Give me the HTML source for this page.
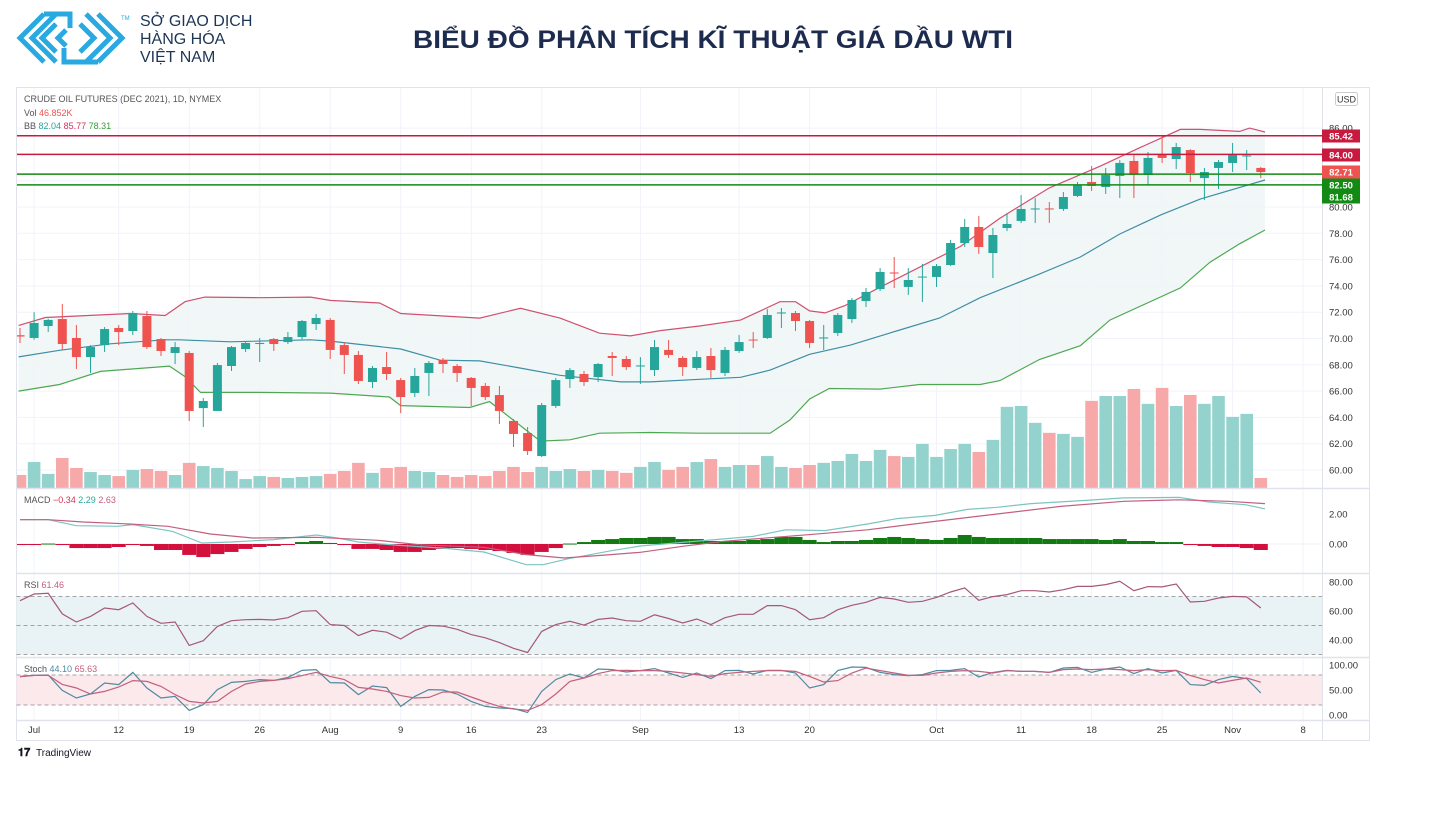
<!DOCTYPE html>
<html><head><meta charset="utf-8">
<style>
html,body{margin:0;padding:0;background:#fff;}
svg{display:block;font-family:"Liberation Sans","Noto Sans CJK SC",sans-serif;}
</style></head>
<body>
<svg id="chart" width="1430" height="834" viewBox="0 0 1430 834" xmlns="http://www.w3.org/2000/svg">
<defs><clipPath id="plotclip"><rect x="17" y="88" width="1305" height="632"/></clipPath></defs>
<g fill="none" stroke="#2aa9e0" stroke-width="5" stroke-linejoin="miter">
  <polyline points="44,14 20,38 44,62"/>
  <polyline points="56,14 32,38 56,62"/>
  <polyline points="56,24 42,38 56,52"/>
  <polyline points="66,30 58,38 66,46"/>
  <polyline points="86,14 110,38 86,62"/>
  <polyline points="98,14 122,38 98,62"/>
  <polyline points="80,24 94,38 80,52"/>
  <polyline points="44,14 70,14 70,28"/>
  <polyline points="98,62 64,62 64,48"/>
</g>
<text x="121" y="20" font-size="6" fill="#2aa9e0">TM</text>
<g font-size="16" fill="#1d3557">
  <text x="140" y="26">SỞ GIAO DỊCH</text>
  <text x="140" y="44">HÀNG HÓA</text>
  <text x="140" y="62">VIỆT NAM</text>
</g>
<text x="713" y="48" text-anchor="middle" font-size="25" font-weight="bold" fill="#1d2b4f" textLength="600" lengthAdjust="spacingAndGlyphs">BIỂU ĐỒ PHÂN TÍCH KĨ THUẬT GIÁ DẦU WTI</text>

<rect x="16.5" y="87.5" width="1353" height="653" fill="#fff" stroke="#e0e3eb"/>
<g id="grid"></g>
<g id="bands"></g>
<g clip-path="url(#plotclip)">
<g id="vol"></g>
<g id="bb"></g>
<g id="candles"></g>
<g id="levels"></g>
<g id="macd"></g>
<g id="rsi"></g>
<g id="stoch"></g>
</g>
<g id="axes"></g>

<g font-size="9">
  <text x="24" y="102" fill="#555">CRUDE OIL FUTURES (DEC 2021), 1D, NYMEX</text>
  <text x="24" y="116" fill="#555">Vol <tspan fill="#ef5350">46.852K</tspan></text>
  <text x="24" y="129" fill="#555">BB <tspan fill="#26a69a">82.04</tspan> <tspan fill="#d0335a">85.77</tspan> <tspan fill="#3a9b3a">78.31</tspan></text>
  <text x="24" y="503" fill="#555">MACD <tspan fill="#d0335a">−0.34</tspan> <tspan fill="#26a69a">2.29</tspan> <tspan fill="#c2607e">2.63</tspan></text>
  <text x="24" y="588" fill="#555">RSI <tspan fill="#c2607e">61.46</tspan></text>
  <text x="24" y="672" fill="#555">Stoch <tspan fill="#4f8aa0">44.10</tspan> <tspan fill="#c2607e">65.63</tspan></text>
</g>
<rect x="1335.5" y="92.5" width="22" height="13" rx="2" fill="#fff" stroke="#ccc"/>
<text x="1346.5" y="102.5" font-size="9" text-anchor="middle" fill="#333">USD</text>
<g>
  <text x="18" y="756" font-size="11" font-weight="bold" fill="#131722">𝟏𝟕</text>
  <text x="36" y="756" font-size="10" fill="#131722">TradingView</text>
</g>

<script>
// ---------- DATA ----------
const opens  = [70.25,70.04,70.95,71.48,70.04,68.59,69.5,70.8,70.57,71.71,69.96,68.9,68.9,64.71,64.49,67.91,69.2,69.58,69.96,69.73,70.11,71.1,71.41,69.5,68.75,66.69,67.83,66.84,65.86,67.38,68.37,67.91,67.0,66.39,65.7,63.73,62.81,61.06,64.87,66.92,67.3,67.07,68.67,68.44,67.87,67.6,69.13,68.52,67.76,68.67,67.38,69.05,69.92,70.04,71.9,71.94,71.33,70.0,70.42,71.48,72.85,73.76,75.02,73.92,74.64,74.68,75.59,77.26,78.48,76.5,78.4,78.94,79.81,79.89,79.85,80.84,81.9,81.52,82.36,83.5,82.43,84.03,83.65,84.33,82.2,82.97,83.35,83.84,82.97];
const highs  = [70.8,72.0,71.5,72.62,71.03,69.5,70.87,71.03,72.09,72.09,70.04,69.73,69.05,65.48,68.14,69.43,69.73,70.04,70.04,70.49,71.41,71.86,71.56,69.73,69.05,67.91,68.97,67.0,67.76,68.29,68.52,68.06,67.07,66.62,66.39,63.88,63.27,65.1,67.0,67.76,67.53,68.14,68.97,68.67,68.59,69.89,69.89,68.67,69.05,69.28,69.35,70.27,70.49,72.24,72.32,72.09,71.41,71.03,71.94,73.08,73.84,75.36,76.2,75.36,75.67,75.67,77.49,79.09,79.32,78.4,79.54,80.91,80.68,80.38,81.14,81.9,83.12,82.97,83.57,83.95,84.18,85.4,84.87,84.4,82.97,83.57,84.87,84.33,83.05];
const lows   = [69.66,69.9,70.5,69.13,67.68,67.38,68.97,69.5,70.27,69.2,68.67,68.06,63.73,63.27,64.49,67.53,68.97,68.21,69.05,69.58,69.89,70.65,68.44,67.3,66.54,66.24,66.84,64.33,65.55,65.63,67.38,66.69,64.87,65.32,63.5,61.75,61.14,60.99,64.71,66.24,66.39,66.69,67.15,67.6,66.54,67.15,68.52,67.15,67.6,67.0,67.15,68.9,69.28,69.96,70.8,70.57,69.28,69.13,70.19,71.18,72.4,73.61,73.84,73.31,72.78,73.92,75.51,76.96,76.43,74.6,78.17,78.78,78.78,78.78,79.7,80.76,81.22,80.99,80.68,80.68,81.67,83.35,82.89,81.9,80.53,81.37,82.66,82.81,82.2];
const closes = [70.15,71.18,71.41,69.58,68.59,69.35,70.72,70.49,71.94,69.35,69.05,69.35,64.49,65.25,67.98,69.35,69.66,69.66,69.58,70.11,71.33,71.56,69.13,68.75,66.77,67.76,67.3,65.55,67.15,68.14,68.06,67.38,66.24,65.55,64.49,62.74,61.44,64.94,66.84,67.6,66.69,68.06,68.52,67.83,67.95,69.35,68.75,67.83,68.59,67.6,69.13,69.73,69.85,71.79,71.98,71.33,69.66,70.08,71.79,72.93,73.54,75.06,74.94,74.45,74.71,75.51,77.26,78.48,76.96,77.87,78.71,79.85,79.89,79.81,80.76,81.67,81.6,82.43,83.35,82.43,83.73,83.73,84.56,82.58,82.66,83.42,83.95,83.92,82.66];
const volumeK = [61,122,66,141,94,75,61,56,85,89,80,61,118,103,94,80,42,56,52,47,52,56,66,80,118,71,94,99,80,75,61,52,61,56,80,99,75,99,80,89,80,85,80,71,99,122,85,99,122,136,99,108,108,150,99,94,108,118,127,160,127,179,150,146,207,146,183,207,169,226,381,385,306,259,254,240,409,432,432,465,395,470,385,437,395,432,334,348,47];
const macdHist = [-0.07,-0.07,0.03,-0.07,-0.27,-0.27,-0.27,-0.2,-0.07,-0.13,-0.4,-0.4,-0.73,-0.87,-0.67,-0.53,-0.33,-0.2,-0.13,-0.07,0.13,0.2,0.07,-0.07,-0.33,-0.33,-0.4,-0.53,-0.53,-0.4,-0.33,-0.27,-0.33,-0.4,-0.47,-0.6,-0.73,-0.53,-0.27,0.03,0.13,0.27,0.33,0.4,0.4,0.47,0.47,0.33,0.33,0.2,0.2,0.2,0.27,0.33,0.47,0.47,0.27,0.13,0.2,0.2,0.27,0.4,0.47,0.4,0.33,0.27,0.4,0.6,0.47,0.4,0.4,0.4,0.4,0.33,0.33,0.33,0.33,0.27,0.33,0.2,0.2,0.13,0.13,-0.07,-0.13,-0.2,-0.2,-0.27,-0.4];
const macdIdx = [0,2,4,6.9,8,10.8,12,12.9,15,18,21,22.5,24,26.9,29.9,32.9,35.9,37.1,38.9,41.9,44,47,52,54.3,57.1,60.1,62.2,64.9,67.2,69.3,71.7,75.6,78.3,82.2,84.3,86.9,88.3];
const macdLine = [1.62,1.62,1.22,1.18,1.29,0.85,0.4,0.07,0.13,0.29,0.6,0.4,0.13,-0.09,-0.27,-0.53,-1.38,-1.38,-0.98,-0.45,-0.13,0.11,0.51,0.95,0.89,1.33,1.69,1.91,2.31,2.45,2.69,2.91,3.07,3.11,2.8,2.62,2.35];
const signalIdx = [0,2,4.5,7.5,10.5,13.5,16.5,21,25.4,28.4,32.9,35.9,38.6,41.9,44,47,49.9,55.9,60.1,64.9,69.3,73.8,78.3,82.2,85.7,88.3];
const signalLine = [1.62,1.62,1.47,1.35,1.18,0.67,0.4,0.45,0.25,-0.05,-0.22,-0.71,-0.93,-0.71,-0.55,-0.15,0.18,0.62,0.95,1.51,2.0,2.51,2.85,2.95,2.85,2.69];
const rsiValues = [67.1,71.7,72.2,58,52.4,56.3,62.1,60.9,65.5,56.3,51.5,52.4,36.3,39.5,49.4,53.3,54,54.2,53.8,55.4,59.8,60.2,50.6,50,43,46.7,45.4,40.7,46.5,50,49.6,47.4,43.7,41.5,38.2,34.3,31.4,45.9,50.6,52.9,50.3,54.2,55.2,53.3,52.9,57.4,54.8,51.7,54.5,50.6,55.4,57.7,57.7,63.7,63.7,60.9,54,55.4,60.9,63.9,66,69.4,68.3,66,66.7,69.4,73.1,75.9,67.4,69.9,71.3,74,74,73.1,74.7,77,77,78.2,80.5,74,76.8,76.6,78.6,66.2,66.7,69,70.1,69.7,62.1];
const stochK = [76.7,79.3,80,49.3,34,42,64,60.7,85.3,54,34,37.3,9.3,20.7,50.7,65.3,67.3,70.7,69.3,75.3,89.3,90.7,64.7,64,40.7,58,54.7,17.3,37.3,50.7,50,42,27.3,17.3,14,12.7,5.3,47.3,70.7,82,74,92,90.7,86,88.7,92.7,84,75.3,84,72.7,88.7,89.3,82,89.3,89.3,84,54,60.7,88.7,96,95.3,85.3,80.7,78.7,80.7,88.7,89.3,92.7,76,85.3,89.3,87.3,87.3,85.3,94,95.3,85.3,92,96,82.7,92.7,84,89.3,60.7,59.3,70.7,77.3,72.7,44];
const stochD = [76.7,79.3,79.3,61.3,54,42,47.3,56,68.7,67.3,57.3,40.7,27.3,24,27.3,47.3,62,67.3,69.3,72.7,78.7,85.3,77.3,70.7,55.3,52,47.3,38.7,34,35.3,46,46,36,26,17.3,12,9.3,20.7,42,67.3,74,82.7,88.7,89.3,88.7,88.7,87.3,84,80.7,77.3,82.7,85.3,87.3,88.7,88.7,87.3,77.3,66,68.7,84,94,88.7,84,79.3,79.3,84,87.3,88.7,87.3,84,88.7,87.3,87.3,85.3,90.7,92,90.7,92,90.7,88.7,90.7,88.7,89.3,79.3,70.7,64,69.3,74,65.6];
const bbUpperIdx = [-0.1,1.8,7.8,10.3,11.7,13.1,17,20.6,22,25.5,27,32.6,35.5,38.3,41.1,43.3,45.4,48.2,51.1,52.5,53.9,55,56,57.1,58.5,61,66.7,69.5,73,76.6,79.4,82.3,83.7,86.5,87.2,88.3];
const bbUpper = [71.0,71.6,71.9,71.75,72.8,73.15,73.1,73.15,72.9,72.7,71.9,71.55,72.3,71.55,70.4,70.2,70.6,70.95,71.4,72.1,72.8,72.8,72.1,71.95,72.5,73.9,77.0,79.15,81.45,83.1,84.5,85.9,85.9,85.75,86.0,85.7];
const bbMidIdx = [-0.1,2.8,6.4,10.3,11.3,14.9,20.6,22,27,29.8,32.6,35.5,38.3,42.6,44.7,48.2,51.1,53.2,56,58.9,62.4,65.2,68.1,72.3,75.2,78,80.9,83.7,88.3];
const bbMid = [68.6,69.1,69.6,69.9,69.9,69.75,69.9,69.8,69.2,68.35,68.3,67.75,67.2,66.7,66.7,66.9,67.05,67.6,68.8,69.5,70.65,71.55,73.1,74.9,76.2,77.95,79.4,80.6,82.05];
const bbLowerIdx = [-0.1,2.8,5.7,10.6,11.7,12.8,17,22,26.2,27,31.9,33.3,34.8,36.9,39,41.1,44.7,48.2,53.2,54.6,56,57.4,61,63.8,68.1,69.5,72.3,75.2,77.3,82.3,84.4,86.5,88.3];
const bbLower = [66.0,66.5,67.5,67.9,67.1,65.9,65.9,65.85,65.55,64.9,64.75,65.2,63.95,62.2,62.3,62.8,62.85,62.8,62.8,63.8,65.4,66.2,66.15,66.5,66.5,66.8,68.4,69.45,71.4,73.85,75.8,77.2,78.25];
const levelValues = [85.42,84.00,82.50,81.68];
const levelKinds = ["res","res","sup","sup"];
const priceTicks = [60,62,64,66,68,70,72,74,76,78,80,82,86];
const dateIdx = [1,7,12,17,22,27,32,37,44,51,56,65,71,76,81,86,91];
const dateLabels = ["Jul","12","19","26","Aug","9","16","23","Sep","13","20","Oct","11","18","25","Nov","8"];

// ---------- SCALES ----------
const NS = "http://www.w3.org/2000/svg";
const xS = i => 20 + 14.1 * i;
const yP = p => 470 - (p - 60) * 13.15;
const yV = v => 488 - v * 0.213;
const yM = v => 544 - v * 15;
const yR = v => 582 + (80 - v) * 1.45;
const yS = v => 665 + (100 - v) * 0.5;
const PL = 16.5, PR = 1322;
function mk(parent, tag, attrs) {
  const e = document.createElementNS(NS, tag);
  for (const k in attrs) e.setAttribute(k, attrs[k]);
  document.getElementById(parent).appendChild(e);
  return e;
}
function pathFrom(idx, vals, ys) {
  return idx.map((i, k) => (k ? "L" : "M") + xS(i).toFixed(1) + "," + ys(vals[k]).toFixed(1)).join(" ");
}
const seq = n => Array.from({length: n}, (_, i) => i);

priceTicks.forEach(p => {
  const l = mk("grid", "line", {x1: PL, x2: PR, y1: yP(p), y2: yP(p), stroke: "#f0f3fa"});
  
  
});
dateIdx.forEach(i => {
  const l = mk("grid", "line", {x1: xS(i), x2: xS(i), y1: 88, y2: 720, stroke: "#f0f3fa"});
  
  
});

let b = mk("bands", "rect", {x: PL, y: yR(70), width: PR - PL, height: yR(30) - yR(70), fill: "#e9f3f5"});


b = mk("bands", "rect", {x: PL, y: yS(80), width: PR - PL, height: yS(20) - yS(80), fill: "#fbe9ec"});


[[yR(70),"rsi-upper-line"],[yR(50),"rsi-mid-line"],[yR(30),"rsi-lower-line"],[yS(80),"stoch-upper-line"],[yS(20),"stoch-lower-line"]].forEach(([y, n]) => {
  const l = mk("bands", "line", {x1: PL, x2: PR, y1: y, y2: y, stroke: "#888", "stroke-dasharray": "4,3", "stroke-width": 0.8});
  
  
});

seq(closes.length).forEach(i => {
  const up = closes[i] >= opens[i];
  const r = mk("vol", "rect", {x: xS(i) - 6.3, y: yV(volumeK[i]), width: 12.6, height: 488 - yV(volumeK[i]), fill: up ? "#94d3cd" : "#f6a9a8"});
  
  
});

const fillD = pathFrom(bbUpperIdx, bbUpper, yP) + " " +
  bbLowerIdx.slice().reverse().map((i, k) => "L" + xS(i).toFixed(1) + "," + yP(bbLower[bbLower.length - 1 - k]).toFixed(1)).join(" ") + " Z";
let e = mk("bb", "path", {d: fillD, fill: "#eef6f6", "fill-opacity": 0.85});


e = mk("bb", "path", {d: pathFrom(bbUpperIdx, bbUpper, yP), fill: "none", stroke: "#d0506e", "stroke-width": 1.2});


e = mk("bb", "path", {d: pathFrom(bbMidIdx, bbMid, yP), fill: "none", stroke: "#3f8ea6", "stroke-width": 1.2});


e = mk("bb", "path", {d: pathFrom(bbLowerIdx, bbLower, yP), fill: "none", stroke: "#4ea852", "stroke-width": 1.2});



seq(closes.length).forEach(i => {
  const up = closes[i] >= opens[i];
  const col = up ? "#26a69a" : "#ef5350";
  const x = xS(i);
  const w = mk("candles", "line", {x1: x, x2: x, y1: yP(highs[i]), y2: yP(lows[i]), stroke: col, "stroke-width": 1});
  
  
  const top = yP(Math.max(opens[i], closes[i])), bot = yP(Math.min(opens[i], closes[i]));
  const r = mk("candles", "rect", {x: x - 4.5, y: top, width: 9, height: Math.max(1, bot - top), fill: col});
  
  
});

levelValues.forEach((v, k) => {
  const res = levelKinds[k] === "res";
  const col = res ? "#c8193f" : "#138a13";
  const l = mk("levels", "line", {x1: PL, x2: 1322, y1: yP(v), y2: yP(v), stroke: col, "stroke-width": 1.5});
  
  
});

e = mk("macd", "line", {x1: PL, x2: PR, y1: yM(0), y2: yM(0), stroke: "#f0f0f0"});


seq(macdHist.length).forEach(i => {
  const v = macdHist[i];
  const y0 = yM(0), y1 = yM(v);
  const r = mk("macd", "rect", {x: xS(i) - 7, y: Math.min(y0, y1), width: 14, height: Math.max(1, Math.abs(y1 - y0)), fill: v >= 0 ? "#137a13" : "#d3103d"});
  
  
});
e = mk("macd", "path", {d: pathFrom(macdIdx, macdLine, yM), fill: "none", stroke: "#7cc4c2", "stroke-width": 1.2});


e = mk("macd", "path", {d: pathFrom(signalIdx, signalLine, yM), fill: "none", stroke: "#c2607e", "stroke-width": 1.2});



e = mk("rsi", "path", {d: pathFrom(seq(rsiValues.length), rsiValues, yR), fill: "none", stroke: "#a6587a", "stroke-width": 1.2});


e = mk("stoch", "path", {d: pathFrom(seq(stochK.length), stochK, yS), fill: "none", stroke: "#4f8aa0", "stroke-width": 1.2});


e = mk("stoch", "path", {d: pathFrom(seq(stochD.length), stochD, yS), fill: "none", stroke: "#c2607e", "stroke-width": 1.2});



[488.5, 573.5, 657.5, 720.5].forEach(y => {
  const l = mk("axes", "line", {x1: 16.5, x2: 1369.5, y1: y, y2: y, stroke: "#e0e3eb", "stroke-width": 1.5});
  
  
});
e = mk("axes", "line", {x1: 1322.5, x2: 1322.5, y1: 88, y2: 740, stroke: "#e0e3eb"});


function label(x, y, txt, name, anchor) {
  const t = mk("axes", "text", {x: x, y: y, "font-size": 9.5, fill: "#333", "text-anchor": anchor || "start"});
  t.textContent = txt;
  
  
}
priceTicks.forEach(p => label(1329, yP(p) + 3.5, p.toFixed(2), "price-tick"));
[2, 0].forEach(v => label(1329, yM(v) + 3.5, v.toFixed(2), "macd-tick"));
[80, 60, 40].forEach(v => label(1329, yR(v) + 3.5, v.toFixed(2), "rsi-tick"));
[100, 50, 0].forEach(v => label(1329, yS(v) + 3.5, v.toFixed(2), "stoch-tick"));
dateIdx.forEach((i, k) => label(xS(i), 733, dateLabels[k], "date-tick", "middle"));

const tagVals = [85.42, 84.00, 82.71, 82.50, 81.68];
const tagCols = ["#c8193f", "#c8193f", "#ef5350", "#138a13", "#138a13"];
const tagY = [136, 155, 172, 185, 197];
tagVals.forEach((v, k) => {
  const r = mk("axes", "rect", {x: 1322, y: tagY[k] - 6.5, width: 38, height: 13, fill: tagCols[k]});
  
  
  const t = mk("axes", "text", {x: 1341, y: tagY[k] + 3.5, "font-size": 9.5, "font-weight": "bold", fill: "#fff", "text-anchor": "middle"});
  t.textContent = v.toFixed(2);
  
  
});
</script>
</svg>
</body></html>
